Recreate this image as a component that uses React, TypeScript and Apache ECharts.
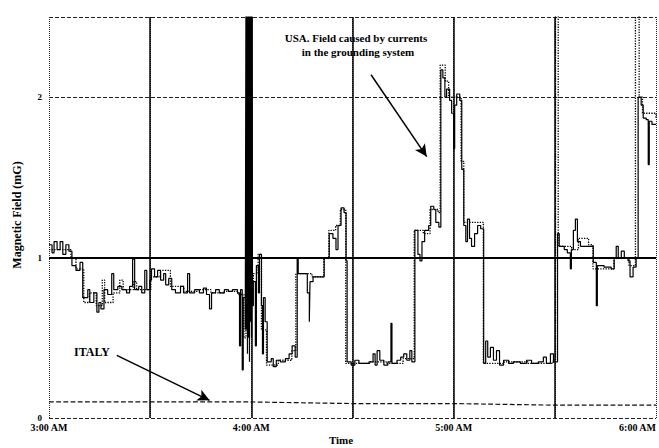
import React, { useEffect, useRef } from "react";
import * as echarts from "echarts";

// minutes after 3:00 AM
const xTickLabels = ["3:00 AM", "", "4:00 AM", "", "5:00 AM", "", "6:00 AM"];
const yTickLabels = ["0", "1", "2"];

// USA – solid trace [minute, mG]
const usaSolid: [number, number][] = [
  [0, 1.08], [0.9, 1.03], [1.5, 1.1], [2.4, 1.05], [3.3, 1.1], [4.1, 1.02], [5, 1.08], [5.9, 1.04],
  [6.8, 0.95], [8, 0.92], [9.2, 0.97], [10, 0.75], [11.5, 0.8], [12.1, 0.72], [13.3, 0.78], [14.2, 0.66],
  [14.8, 0.72], [15.4, 0.68], [16.3, 0.8], [17.4, 0.77], [18.6, 0.9], [19.2, 0.8], [20.4, 0.82], [21.6, 0.8],
  [23, 0.78], [23.9, 0.82], [24.8, 0.99], [25.4, 0.8], [26.6, 0.82], [27.5, 0.78], [28.4, 0.92], [29, 0.8],
  [29.9, 0.86], [30.4, 0.93], [31.3, 0.88], [32.2, 0.92], [33.1, 0.86], [34, 0.9], [34.6, 0.83], [35.5, 0.87],
  [36.4, 0.8], [37.5, 0.78], [39, 0.82], [39.9, 0.78], [41.1, 0.9], [41.7, 0.78], [43.2, 0.8], [44.6, 0.78],
  [45.8, 0.81], [46.7, 0.77], [47.6, 0.68], [48.2, 0.78], [49.4, 0.8], [50.5, 0.78], [52, 0.8], [53.2, 0.79],
  [54.4, 0.8], [55.9, 0.78], [56.5, 0.45], [56.8, 0.8], [57.3, 0.3], [57.6, 0.75], [58.2, 0.55],
  [58.4, 2.6], [58.55, 0.55], [58.7, 2.6], [58.85, 0.4], [59.0, 2.6], [59.15, 0.5], [59.3, 2.6], [59.45, 0.35],
  [59.6, 2.6], [59.75, 0.6], [59.9, 2.6], [60.05, 0.5], [60.2, 2.6], [60.35, 0.7],
  [60.6, 0.85], [61.2, 0.45], [61.5, 0.95], [62.1, 0.78], [62.4, 1.02], [63, 0.7], [63.3, 0.4], [63.6, 0.75],
  [64.1, 0.6], [64.7, 0.35], [65.9, 0.37], [66.5, 0.32], [67.4, 0.36], [68.6, 0.35], [70.1, 0.37], [71.2, 0.4],
  [72.1, 0.45], [73, 0.38], [73.6, 1.0], [73.9, 0.9], [76.6, 0.78], [77.2, 0.6], [77.4, 0.85], [78.3, 0.88],
  [81.6, 1.0], [83.1, 1.15], [84.2, 1.12], [85.1, 1.05], [85.7, 1.2], [86.6, 1.31], [87.5, 1.28], [88.1, 0.98],
  [88.4, 0.35], [89.6, 0.33], [90.7, 0.36], [91.9, 0.34], [94.9, 0.35], [96.1, 0.4], [96.7, 0.33], [97.3, 0.42],
  [98.1, 0.36], [99.3, 0.33], [100.5, 0.35], [101.4, 0.59], [101.7, 0.34], [103.2, 0.36], [104.3, 0.38],
  [105.2, 0.4], [106.1, 0.36], [107, 0.42], [107.6, 0.35], [108.5, 1.17], [109.4, 1.02], [110, 0.98],
  [110.6, 1.1], [111.4, 1.17], [112.6, 1.2], [113.2, 1.32], [114.1, 1.3], [114.7, 1.22], [115.6, 1.19],
  [116.2, 2.17], [116.8, 2.12], [117.4, 2.0], [117.9, 2.05], [118.8, 1.98], [119.4, 1.9], [120, 1.68],
  [120.3, 1.95], [120.9, 2.02], [121.8, 1.98], [122.4, 1.55], [123, 1.2], [123.6, 1.1], [124.1, 1.24],
  [124.7, 1.12], [125.3, 1.07], [126.2, 1.15], [127.1, 1.2], [128, 1.18], [128.9, 0.34], [129.5, 0.48],
  [130.1, 0.38], [130.9, 0.44], [131.8, 0.36], [132.7, 0.42], [133.6, 0.33], [134.8, 0.36], [136.3, 0.34],
  [137.7, 0.35], [139.8, 0.34], [141.6, 0.36], [143.1, 0.34], [145.1, 0.35], [146.6, 0.38], [147.5, 0.34],
  [148.7, 0.4], [149.6, 0.35], [150.8, 1.15], [151.3, 1.07], [152.8, 1.05], [153.7, 1.03], [154.6, 0.93],
  [154.9, 1.05], [155.5, 1.17], [156.1, 1.24], [156.7, 1.1], [157.6, 1.07], [159.9, 1.07], [161.4, 0.97],
  [162.3, 0.7], [162.6, 0.95], [164.6, 0.94], [166.7, 0.93], [167.6, 1.0], [168.2, 1.07], [168.8, 1.0],
  [169.7, 1.04], [170.6, 1.0], [171.7, 0.98], [172.3, 0.88], [173.2, 0.94], [174.1, 1.0], [174.7, 2.0],
  [175.6, 1.95], [176.2, 1.87], [177.1, 1.86], [177.7, 1.58], [178, 1.85], [178.8, 1.83], [180, 1.83],
];

// USA – dotted trace [minute, mG]
const usaDotted: [number, number][] = [
  [0, 1.05], [6.5, 1.0], [8, 0.93], [10.3, 0.72], [12, 0.78], [14, 0.7], [15.8, 0.86], [16.5, 0.72],
  [19, 0.78], [21, 0.86], [22, 0.8], [25, 0.85], [26, 0.8], [30.2, 0.88], [33, 0.92], [36, 0.82],
  [40, 0.79], [44, 0.8], [48, 0.78], [52, 0.79], [56, 0.77], [57.8, 0.5], [58.4, 0.8], [60.6, 0.9],
  [62, 1.02], [63, 0.55], [64.5, 0.33], [68, 0.36], [72, 0.42], [73.2, 0.9], [78, 0.88], [81.5, 1.0],
  [83, 1.17], [85, 1.2], [86.4, 1.3], [88, 0.34], [95, 0.35], [100, 0.34], [105, 0.37], [108.3, 1.17],
  [111, 1.15], [113, 1.3], [115.4, 1.28], [116, 2.2], [117.5, 2.1], [118.5, 2.0], [122.2, 1.6],
  [123, 1.22], [128.8, 0.34], [135, 0.35], [142, 0.34], [149.5, 0.36], [150.2, 2.6], [151, 1.07],
  [155, 1.05], [157, 1.12], [160, 1.08], [161.3, 0.93], [167.5, 1.0], [172, 0.95], [173.9, 2.6],
  [175, 2.0], [176, 1.9], [180, 1.87],
];

// ITALY [minute, mG]
const italy: [number, number][] = [
  [0, 0.1], [30, 0.1], [60, 0.1], [90, 0.09], [120, 0.09], [150, 0.08], [180, 0.08],
];

const SERIF = '"Liberation Serif", "DejaVu Serif", serif';

export default function App() {
  const ref = useRef<HTMLDivElement>(null);
  useEffect(() => {
    if (!ref.current) return;
    const chart = echarts.init(ref.current, null, { renderer: "svg" });
    chart.setOption({
      animation: false,
      backgroundColor: "#fff",
      grid: { left: 49, right: 1, top: 17, bottom: 30, containLabel: false },
      xAxis: {
        type: "value",
        min: 0,
        max: 180,
        interval: 30,
        axisLine: { show: false },
        axisTick: { show: false },
        axisLabel: {
          margin: 4,
          fontFamily: SERIF,
          fontWeight: "bold",
          fontSize: 10,
          color: "#000",
          alignMaxLabel: "right",
          formatter: (v: number) => xTickLabels[Math.round(v / 30)] ?? "",
        },
        splitLine: { show: true, lineStyle: { color: "#222", type: "dotted", width: 1 } },
      },
      yAxis: {
        type: "value",
        min: 0,
        max: 2.5,
        interval: 1,
        axisLine: { show: false },
        axisTick: { show: false },
        axisLabel: {
          margin: 7,
          fontFamily: SERIF,
          fontWeight: "bold",
          fontSize: 9,
          color: "#000",
          formatter: (v: number) => (Number.isInteger(v) ? yTickLabels[v] ?? "" : ""),
        },
        splitLine: { show: true, lineStyle: { color: "#222", type: "dashed", width: 1 } },
      },
      series: [
        {
          name: "ITALY",
          type: "line",
          data: italy,
          showSymbol: false,
          lineStyle: { color: "#111", width: 1.2, type: "dashed" },
          markLine: {
            silent: true,
            symbol: ["none", "none"],
            label: { show: false },
            lineStyle: { color: "#000", type: "solid", width: 1.5 },
            data: [
              { xAxis: 30 },
              { xAxis: 60 },
              { xAxis: 90 },
              { xAxis: 120 },
              { xAxis: 150 },
              { yAxis: 1, lineStyle: { width: 2, color: "#000", type: "solid" } },
            ],
          },
        },
        {
          name: "USA dotted",
          type: "line",
          step: "end",
          data: usaDotted,
          showSymbol: false,
          lineStyle: { color: "#000", width: 1.3, type: "dotted" },
        },
        {
          name: "USA",
          type: "line",
          step: "end",
          data: usaSolid,
          showSymbol: false,
          lineStyle: { color: "#000", width: 1.2 },
          markLine: {
            silent: true,
            symbol: ["none", "arrow"],
            symbolSize: [9, 12],
            label: { show: false },
            lineStyle: { color: "#000", type: "solid", width: 1.5 },
            data: [
              [{ coord: [95.5, 2.14] }, { coord: [112, 1.63] }],
              [{ coord: [20.1, 0.39] }, { coord: [47.6, 0.11] }],
            ],
          },
        },
      ],
      graphic: [
        {
          type: "text",
          x: 356,
          y: 38,
          style: {
            text: "USA. Field caused by currents",
            font: `bold 11px ${SERIF}`,
            fill: "#000",
            align: "center",
            verticalAlign: "middle",
          },
        },
        {
          type: "text",
          x: 358,
          y: 52,
          style: {
            text: "in the grounding system",
            font: `bold 11px ${SERIF}`,
            fill: "#000",
            align: "center",
            verticalAlign: "middle",
          },
        },
        {
          type: "text",
          x: 92,
          y: 352,
          style: {
            text: "ITALY",
            font: `bold 12px ${SERIF}`,
            fill: "#000",
            align: "center",
            verticalAlign: "middle",
          },
        },
        {
          type: "text",
          x: 341,
          y: 440,
          style: {
            text: "Time",
            font: `bold 11px ${SERIF}`,
            fill: "#000",
            align: "center",
            verticalAlign: "middle",
          },
        },
        {
          type: "text",
          x: 17,
          y: 215,
          rotation: Math.PI / 2,
          style: {
            text: "Magnetic Field (mG)",
            font: `bold 12px ${SERIF}`,
            fill: "#000",
            align: "center",
            verticalAlign: "middle",
          },
        },
      ],
    });
    return () => chart.dispose();
  }, []);
  return (
    <div
      ref={ref}
      style={{ position: "absolute", left: 0, top: 0, width: 659, height: 448 }}
    />
  );
}
